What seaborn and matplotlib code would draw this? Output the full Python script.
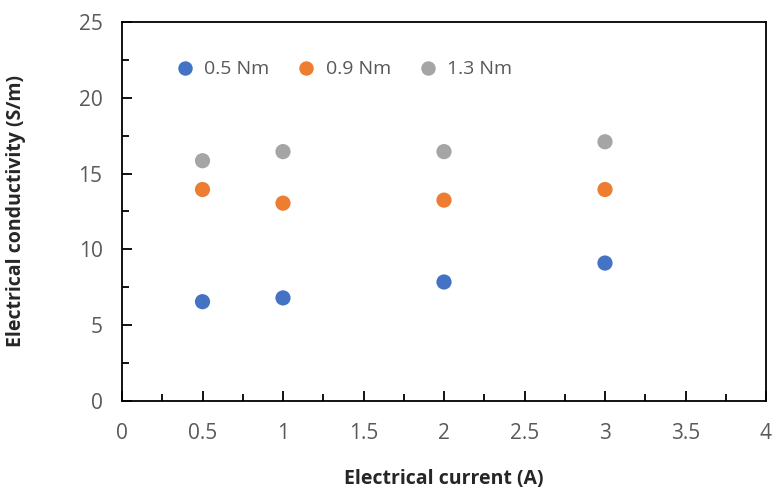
import numpy as np
import pandas as pd
import matplotlib
matplotlib.use("Agg")
import matplotlib.pyplot as plt
from matplotlib.ticker import MultipleLocator, FormatStrFormatter
import seaborn as sns

# data
current = [0.5, 1, 2, 3]
cond_05 = [6.55, 6.8, 7.85, 9.1]
cond_09 = [13.95, 13.05, 13.25, 13.95]
cond_13 = [15.85, 16.45, 16.45, 17.1]
series = ["0.5 Nm", "0.9 Nm", "1.3 Nm"]
colors = ["#4472C4", "#ED7D31", "#A5A5A5"]

df = pd.DataFrame({
    "current": current * 3,
    "cond": cond_05 + cond_09 + cond_13,
    "torque": np.repeat(series, len(current)),
})

sns.set_style("white")
plt.rcParams["font.family"] = ["Open Sans", "DejaVu Sans"]

fig = plt.figure(figsize=(7.76, 4.91), dpi=100)
ax = fig.add_axes([122 / 776, 1 - 401 / 491, (766 - 122) / 776, (401 - 22) / 491])

sns.scatterplot(data=df, x="current", y="cond", hue="torque",
                palette=colors, s=120, edgecolor="none", ax=ax, zorder=3)

ax.set_xlim(0, 4)
ax.set_ylim(0, 25)
ax.xaxis.set_major_locator(MultipleLocator(0.5))
ax.xaxis.set_minor_locator(MultipleLocator(0.25))
ax.yaxis.set_major_locator(MultipleLocator(5))
ax.yaxis.set_minor_locator(MultipleLocator(2.5))
ax.xaxis.set_major_formatter(FormatStrFormatter("%g"))
ax.tick_params(which="major", direction="in", length=7, width=1.3,
               labelsize=15, labelcolor="#595959", color="black",
               bottom=True, left=True)
ax.tick_params(axis="x", which="major", pad=16)
ax.tick_params(axis="y", which="major", pad=14)
ax.tick_params(which="minor", direction="in", length=5, width=1.3,
               bottom=True, left=True, color="black")
for sp in ax.spines.values():
    sp.set_color("black")
    sp.set_linewidth(1.3)

ax.set_xlabel("Electrical current (A)", fontsize=14, fontweight="bold", labelpad=18)
ax.set_ylabel("Electrical conductivity (S/m)", fontsize=14, fontweight="bold", labelpad=38)

leg = ax.legend(loc="upper left", bbox_to_anchor=(0.04, 0.945), ncol=3, frameon=False,
                fontsize=14, handletextpad=0.0, columnspacing=0.9, markerscale=0.95,
                labelcolor="#595959")

fig.savefig("out.png", dpi=100)
